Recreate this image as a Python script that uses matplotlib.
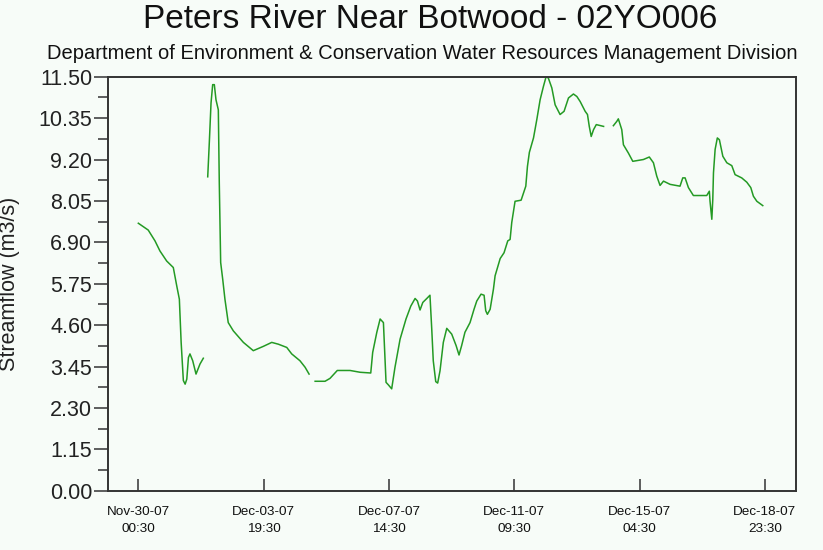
import numpy as np
import pandas as pd
import matplotlib
matplotlib.use("Agg")
import matplotlib.pyplot as plt
import matplotlib.dates as mdates
from matplotlib.ticker import MultipleLocator, FormatStrFormatter

plt.rcParams["font.family"] = ["Liberation Sans", "DejaVu Sans"]

# hours after Nov-30-07 00:30 and streamflow (m3/s); gaps = missing record
hours_1 = [0.0, 7.2, 12.1, 15.7, 20.6, 25.4, 27.9, 29.8, 31.1, 32.7, 34.0, 35.2,
           36.4, 37.5, 39.5, 41.9, 44.8, 47.2]
flow_1 = [7.43, 7.24, 6.94, 6.66, 6.38, 6.20, 5.69, 5.32, 4.12, 3.06, 2.96, 3.10,
          3.70, 3.80, 3.61, 3.24, 3.52, 3.68]

hours_2 = [50.4, 51.6, 52.8, 54.0, 55.2, 56.4, 58.1, 58.8, 59.8, 61.3, 62.9, 65.3,
           69.0, 76.3, 83.5, 90.8, 96.9, 101.7, 107.8, 111.4, 117.4, 121.1, 124.0]
flow_2 = [8.72, 9.71, 10.77, 11.28, 11.28, 10.86, 10.58, 8.55, 6.34, 5.87, 5.32, 4.67,
          4.44, 4.12, 3.89, 4.01, 4.12, 4.07, 3.98, 3.80, 3.61, 3.43, 3.24]

hours_3 = [128.4, 135.6, 139.2, 144.5, 153.8, 161.1, 168.8, 170.2, 173.2, 175.6,
           178.0, 179.9, 181.6, 184.0, 186.4, 190.1, 194.4, 197.9, 201.0, 202.7,
           204.6, 206.6, 209.5, 211.8, 213.1, 214.2, 216.0, 217.4, 219.1, 221.5,
           224.0, 227.6, 230.8, 232.9, 234.8, 237.2, 240.9, 243.8, 245.8, 248.9,
           251.1, 252.3, 253.5, 255.5, 257.9, 259.1, 262.8, 265.6, 268.3, 270.0,
           271.2, 273.6, 278.0, 281.4, 282.6, 284.0, 287.0, 289.4, 291.8, 294.2,
           296.2, 297.8, 300.3, 302.7, 306.3, 309.2, 312.4, 316.0, 318.5, 320.9,
           324.5, 326.2, 327.5, 328.9, 330.6, 332.6, 337.9]
flow_3 = [3.04, 3.04, 3.12, 3.34, 3.34, 3.29, 3.27, 3.84, 4.40, 4.77,
          4.67, 3.01, 2.94, 2.83, 3.43, 4.21, 4.77, 5.13, 5.34, 5.27,
          5.02, 5.23, 5.34, 5.43, 4.49, 3.61, 3.03, 2.99, 3.33, 4.12,
          4.51, 4.35, 4.03, 3.77, 4.03, 4.40, 4.67, 5.04, 5.27, 5.46,
          5.43, 5.00, 4.90, 5.04, 5.60, 5.97, 6.45, 6.61, 6.94, 6.98,
          7.45, 8.04, 8.07, 8.46, 9.01, 9.40, 9.80, 10.31, 10.86, 11.23,
          11.51, 11.46, 11.19, 10.72, 10.45, 10.54, 10.91, 11.02, 10.95, 10.81,
          10.54, 10.45, 10.12, 9.84, 10.03, 10.17, 10.12]

hours_4 = [345.0, 347.5, 348.6, 351.1, 352.3, 355.9, 359.1, 366.8, 371.1, 374.1,
           376.5, 378.9, 381.4, 386.2, 393.4, 395.4, 397.1, 399.5, 403.1, 412.8,
           414.7, 415.2, 416.5, 417.2, 417.7, 418.9, 420.5, 422.0, 424.5, 427.4,
           431.0, 433.4, 438.2, 441.9, 444.8, 446.7, 449.2, 453.5]
flow_4 = [10.14, 10.26, 10.33, 10.03, 9.61, 9.38, 9.15, 9.20, 9.27, 9.11,
          8.74, 8.48, 8.60, 8.51, 8.46, 8.69, 8.69, 8.42, 8.20, 8.20,
          8.32, 8.04, 7.54, 8.09, 8.83, 9.48, 9.80, 9.75, 9.29, 9.11,
          9.03, 8.78, 8.69, 8.57, 8.42, 8.18, 8.04, 7.92]

start = pd.Timestamp("2007-11-30 00:30")
bg = "#f7fcf8"
green = "#249a24"

fig = plt.figure(figsize=(8.23, 5.5), dpi=100, facecolor=bg)
ax = fig.add_axes([0.1316, 0.1078, 0.8352, 0.7527], facecolor=bg)

for hrs, flw in [(hours_1, flow_1), (hours_2, flow_2), (hours_3, flow_3), (hours_4, flow_4)]:
    t = start + pd.to_timedelta(hrs, unit="h")
    ax.plot(t, flw, color=green, lw=1.1)

# y axis
ax.set_ylim(0, 11.5)
ax.yaxis.set_major_locator(MultipleLocator(1.15))
ax.yaxis.set_minor_locator(MultipleLocator(0.575))
ax.yaxis.set_major_formatter(FormatStrFormatter("%.2f"))
ax.tick_params(axis="y", which="major", direction="out", length=10, width=1.1,
               labelsize=15.5, pad=1.5, colors="#333333", labelcolor="#222222")
ax.tick_params(axis="y", which="minor", direction="out", length=7.5, width=1.1,
               colors="#333333")

# x axis, one tick every 91 hours
ticks = pd.date_range(start, periods=6, freq="91h")
ax.set_xticks(ticks)
ax.xaxis.set_major_formatter(mdates.DateFormatter("%b-%d-%y\n%H:%M"))
ax.set_xlim(start - pd.Timedelta(hours=21.8), start + pd.Timedelta(hours=477.4))
ax.tick_params(axis="x", direction="in", length=8.5, width=1.1, labelsize=9.7,
               pad=11, colors="#333333", labelcolor="#111111")
for lab in ax.get_xticklabels():
    lab.set_linespacing(1.55)

for s in ax.spines.values():
    s.set_color("#333333")
    s.set_linewidth(1.4)

ax.set_ylabel("Streamflow (m3/s)", fontsize=15.5, color="#222222")
ax.yaxis.set_label_coords(-0.128, 0.5)

fig.text(0.523, 0.949, "Peters River Near Botwood - 02YO006", ha="center",
         va="baseline", fontsize=24, color="#111111")
fig.text(0.513, 0.892, "Department of Environment & Conservation Water Resources Management Division",
         ha="center", va="baseline", fontsize=14.5, color="#111111")

fig.savefig("out.png", dpi=100, facecolor=bg)
